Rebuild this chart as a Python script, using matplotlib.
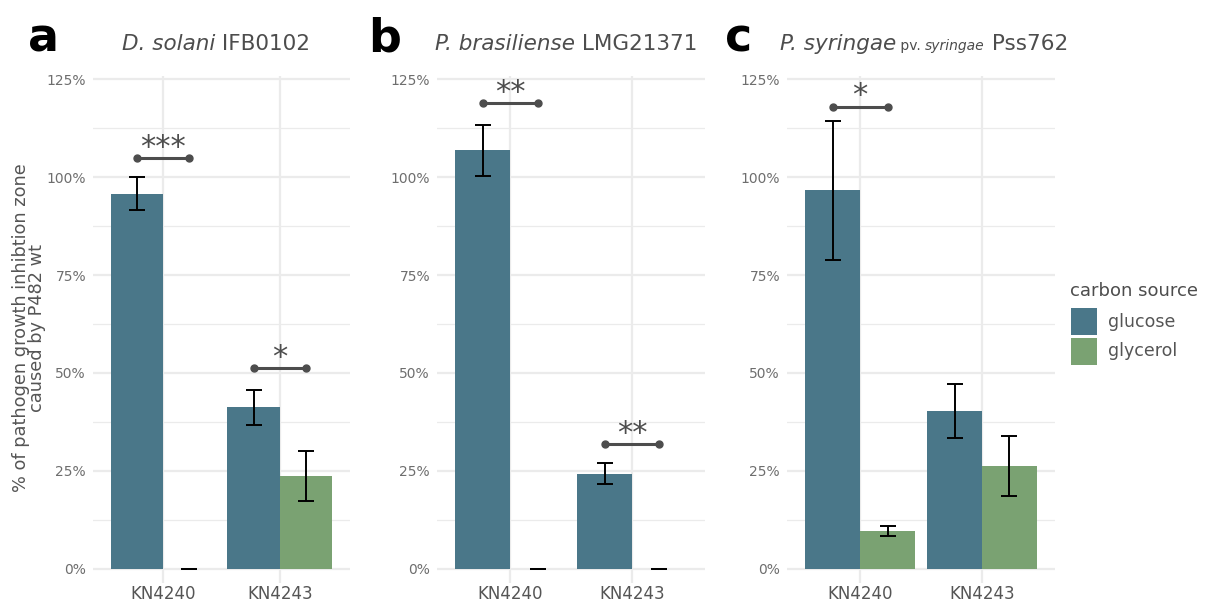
import matplotlib
matplotlib.use("Agg")
import matplotlib.pyplot as plt
from matplotlib.patches import Rectangle
import numpy as np

plt.rcParams['font.family'] = ['DejaVu Sans']

# ---- data -------------------------------------------------------------
strains = ["KN4240", "KN4243"]
sources = ["glucose", "glycerol"]
colors = {"glucose": "#4a7789", "glycerol": "#7aa272"}

# mean inhibition (% of P482 wt) and standard deviation, per panel
a_glucose = [95.8, 41.2]
a_glucose_sd = [4.2, 4.4]
a_glycerol = [0.0, 23.8]
a_glycerol_sd = [0.0, 6.4]

b_glucose = [106.8, 24.3]
b_glucose_sd = [6.6, 2.6]
b_glycerol = [0.0, 0.0]
b_glycerol_sd = [0.0, 0.0]

c_glucose = [96.6, 40.3]
c_glucose_sd = [17.8, 6.8]
c_glycerol = [9.7, 26.2]
c_glycerol_sd = [1.2, 7.6]

# significance labels and the height of their comparison brackets
a_signif = ["***", "*"]
a_bracket = [104.8, 51.2]
b_signif = ["**", "**"]
b_bracket = [118.8, 31.9]
c_signif = ["*", ""]
c_bracket = [118.0, None]

y_ticks = [0, 25, 50, 75, 100, 125]
y_tick_labels = ["0%", "25%", "50%", "75%", "100%", "125%"]

# title pieces: (text, style, size)
a_title = [("D. solani", "italic", 15.5), (" IFB0102", "normal", 15.5)]
b_title = [("P. brasiliense", "italic", 15.5), (" LMG21371", "normal", 15.5)]
c_title = [("P. syringae", "italic", 15.5), (" pv. ", "normal", 10),
           ("syringae", "italic", 10), (" Pss762", "normal", 15.5)]

panels = [
    ("a", a_title, a_glucose, a_glucose_sd, a_glycerol, a_glycerol_sd, a_signif, a_bracket),
    ("b", b_title, b_glucose, b_glucose_sd, b_glycerol, b_glycerol_sd, b_signif, b_bracket),
    ("c", c_title, c_glucose, c_glucose_sd, c_glycerol, c_glycerol_sd, c_signif, c_bracket),
]

# ---- layout -----------------------------------------------------------
W, H = 1218, 604
fig = plt.figure(figsize=(W / 100, H / 100), dpi=100)
fig.patch.set_facecolor("white")

ax_px = [(93, 257), (437, 268), (787, 268)]
title_cx = [216, 566, 924]
top_px, bot_px = 76, 583
letter_x = [28, 368, 725]

text_grey = "#555555"
grid_col = "#ebebeb"
bar_w = 0.45

renderer = fig.canvas.get_renderer()

for (letter, title, glu, glu_sd, gly, gly_sd, signif, bracket), (lx, wx), lt, tcx in zip(
        panels, ax_px, letter_x, title_cx):
    ax = fig.add_axes([lx / W, 1 - bot_px / H, wx / W, (bot_px - top_px) / H])
    x = np.arange(1, len(strains) + 1)
    ax.set_xlim(0.4, len(strains) + 0.6)
    ax.set_ylim(-3.6, 125.8)

    # grid
    for yv in y_ticks:
        ax.axhline(yv, color=grid_col, lw=1.6, zorder=0)
    for yv in np.arange(12.5, 125, 25):
        ax.axhline(yv, color=grid_col, lw=0.9, zorder=0)
    for xv in x:
        ax.axvline(xv, color=grid_col, lw=1.6, zorder=0)

    for vals, sds, src, off in ((glu, glu_sd, "glucose", -bar_w / 2),
                                (gly, gly_sd, "glycerol", bar_w / 2)):
        xs = x + off
        ax.bar(xs, vals, width=bar_w, color=colors[src], linewidth=0, zorder=2)
        ax.errorbar(xs, vals, yerr=sds, fmt="none", ecolor="black",
                    elinewidth=1.4, capsize=6, capthick=1.4, zorder=3)

    # significance brackets
    for i, (s, yb) in enumerate(zip(signif, bracket)):
        if not s:
            continue
        x0, x1 = x[i] - bar_w / 2, x[i] + bar_w / 2
        ax.plot([x0, x1], [yb, yb], color="#4d4d4d", lw=2.2,
                marker="o", markersize=5, zorder=4, clip_on=False)
        ax.text((x0 + x1) / 2, yb - 1.0, s, ha="center", va="bottom",
                fontsize=22, color="#4d4d4d", zorder=4)

    ax.set_yticks(y_ticks)
    ax.set_yticklabels(y_tick_labels)
    ax.set_xticks(x)
    ax.set_xticklabels(strains)
    ax.tick_params(axis="y", length=0, labelsize=10, labelcolor="#6e6e6e", pad=5)
    ax.tick_params(axis="x", length=0, labelsize=12, labelcolor=text_grey, pad=1.5)
    for sp in ax.spines.values():
        sp.set_visible(False)
    ax.set_facecolor("none")

    # panel letter
    fig.text(lt / W, 1 - 52 / H, letter, fontsize=33, fontweight="semibold",
             color="black", ha="left", va="baseline")

    # composite title centred over the panel
    pieces = []
    for txt, style, size in title:
        t = fig.text(0, 1 - 50 / H, txt, fontsize=size, style=style,
                     color="#4d4d4d", ha="left", va="baseline")
        pieces.append(t)
    widths = [p.get_window_extent(renderer).width for p in pieces]
    start = tcx - sum(widths) / 2
    for p, w in zip(pieces, widths):
        p.set_x(start / W)
        start += w

# shared y-axis title
fig.text(29 / W, 1 - 328 / H,
         "% of pathogen growth inhibtion zone\ncaused by P482 wt",
         rotation=90, ha="center", va="center", multialignment="center",
         fontsize=12.8, color=text_grey, linespacing=0.8)

# legend: title, colour keys and labels
fig.text(1070 / W, 1 - 296 / H, "carbon source", fontsize=13,
         color="#4d4d4d", ha="left", va="baseline")
key_top = [308, 337.5]
for src, kt in zip(sources, key_top):
    fig.add_artist(Rectangle((1071 / W, 1 - (kt + 27) / H), 26 / W, 27 / H,
                             transform=fig.transFigure, facecolor=colors[src],
                             edgecolor="none"))
    fig.text(1108 / W, 1 - (kt + 14) / H, src, fontsize=12.5, color=text_grey,
             ha="left", va="center")

fig.savefig("out.png", dpi=100, facecolor="white")
